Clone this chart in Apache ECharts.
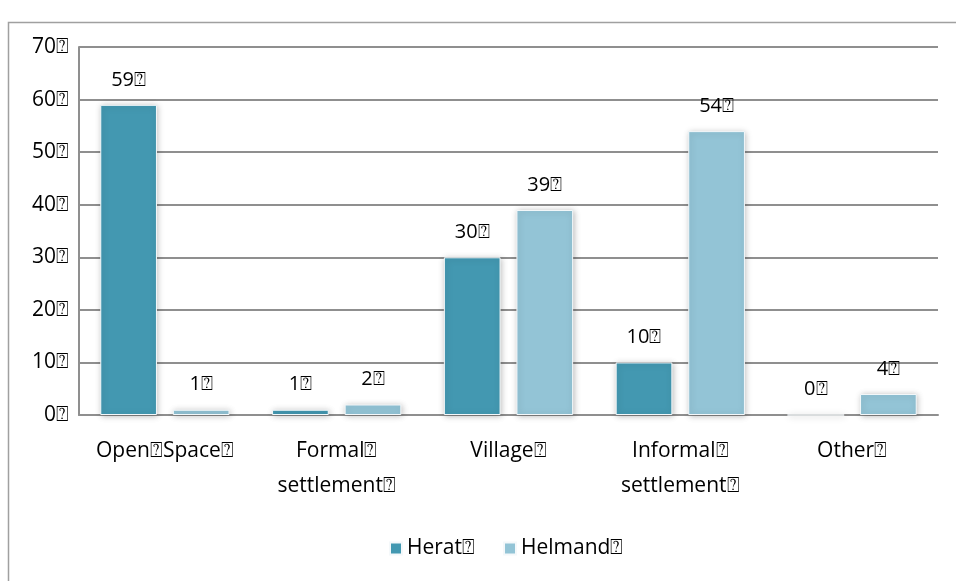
<!DOCTYPE html>
<html>
<head>
<meta charset="utf-8">
<script src="https://cdn.jsdelivr.net/npm/echarts@6/dist/echarts.min.js"></script>
<style>
  html, body { margin: 0; padding: 0; background: #fff; }
  #chart { width: 956px; height: 581px; }
</style>
</head>
<body>
<div id="chart"></div>
<script>
  // 缺字符号（原图中的方框）
  var box = '\u2370'
  var categories = ['Open' + box + 'Space' + box, 'Formal' + box + '\nsettlement' + box, 'Village' + box, 'Informal' + box + '\nsettlement' + box, 'Other' + box]
  var herat = [59, 1, 30, 10, 0]
  var helmand = [1, 2, 39, 54, 4]
  var seriesNames = ['Herat' + box, 'Helmand' + box]
  var colors = ['#4398b1', '#93c4d6']

  var chart = echarts.init(document.getElementById('chart'))
  var font = '"Open Sans", "Noto Sans", sans-serif'
  var lineColor = '#8f8f8f'

  function barSeries (name, data, color) {
    return {
      name: name,
      type: 'bar',
      data: data,
      barWidth: '33%',
      barGap: '28%',
      itemStyle: {
        color: color,
        borderColor: '#f4f8fa',
        borderWidth: 1,
        shadowColor: 'rgba(0,0,0,0.25)',
        shadowBlur: 6,
        shadowOffsetX: 1,
        shadowOffsetY: 1
      },
      label: {
        show: true,
        position: 'top',
        distance: 15,
        color: '#000',
        fontSize: 20,
        fontFamily: font,
        formatter: function (p) { return p.value + box }
      }
    }
  }

  chart.setOption({
    backgroundColor: '#fff',
    animation: false,
    color: colors,
    graphic: [{
      type: 'rect',
      shape: { x: 8.5, y: 22.5, width: 1000, height: 600 },
      style: { fill: 'none', stroke: '#a0a0a0', lineWidth: 1.5 },
      z: -1
    }],
    legend: {
      left: 384,
      top: 533,
      itemWidth: 12,
      itemHeight: 12,
      itemGap: 28,
      icon: 'rect',
      textStyle: { color: '#000', fontSize: 21, fontFamily: font },
      data: seriesNames
    },
    grid: {
      left: 79,
      right: 18,
      top: 47,
      bottom: 166
    },
    xAxis: {
      type: 'category',
      data: categories,
      axisLine: { lineStyle: { color: lineColor, width: 2 } },
      axisTick: { show: false },
      axisLabel: {
        interval: 0,
        color: '#000',
        fontSize: 21,
        fontFamily: font,
        margin: 19,
        lineHeight: 35
      }
    },
    yAxis: {
      type: 'value',
      min: 0,
      max: 70,
      interval: 10,
      axisLine: { show: true, lineStyle: { color: lineColor, width: 2 } },
      axisTick: { show: false },
      splitLine: { lineStyle: { color: lineColor, width: 2 } },
      axisLabel: {
        color: '#000',
        fontSize: 21,
        fontFamily: font,
        margin: 10,
        formatter: function (v) { return v + box }
      }
    },
    series: [
      barSeries(seriesNames[0], herat, colors[0]),
      barSeries(seriesNames[1], helmand, colors[1])
    ]
  })
</script>
</body>
</html>
